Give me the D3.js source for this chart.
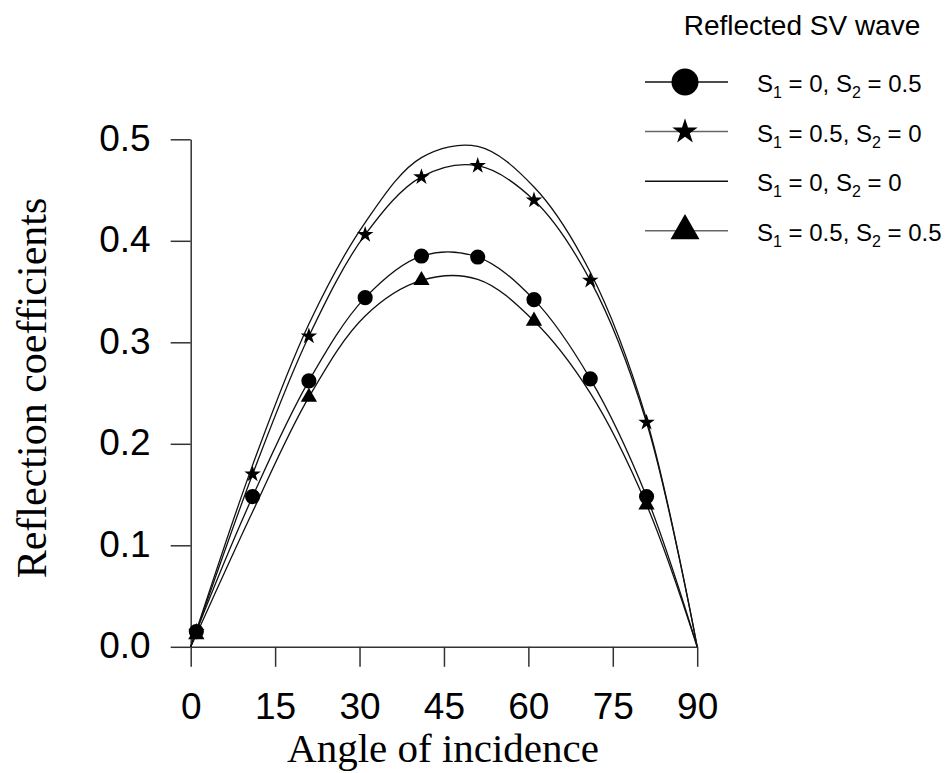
<!DOCTYPE html>
<html>
<head>
<meta charset="utf-8">
<script src="https://cdn.jsdelivr.net/npm/d3@7"></script>
<style>
  body { margin: 0; background: #fff; }
  svg { display: block; }
</style>
</head>
<body>
<script>

// angle of incidence (deg) where the curves were read
const angles = [0, 1, 11, 21, 31, 41, 51, 61, 71, 81, 90];

// reflection coefficients, one list per case
const s1_0_s2_05  = [0, 0.015, 0.148, 0.262, 0.344, 0.385, 0.384, 0.342, 0.264, 0.148, 0];
const s1_05_s2_0  = [0, 0.015, 0.170, 0.306, 0.406, 0.463, 0.474, 0.440, 0.361, 0.221, 0];
const s1_0_s2_0   = [0, 0.016, 0.179, 0.318, 0.418, 0.482, 0.493, 0.453, 0.369, 0.224, 0];
const s1_05_s2_05 = [0, 0.012, 0.133, 0.246, 0.326, 0.361, 0.362, 0.321, 0.250, 0.140, 0];

// angles carrying a marker
const markAngles = [1, 11, 21, 31, 41, 51, 61, 71, 81];
const triangleMarkAngles = [1, 21, 41, 61, 81];

const xTicks = [0, 15, 30, 45, 60, 75, 90];
const yTicks = [0, 0.1, 0.2, 0.3, 0.4, 0.5];

const legendTitle = "Reflected SV wave";
const legendLabels = [
  [["S", "1", " = 0, "], ["S", "2", " = 0.5"]],
  [["S", "1", " = 0.5, "], ["S", "2", " = 0"]],
  [["S", "1", " = 0, "], ["S", "2", " = 0"]],
  [["S", "1", " = 0.5, "], ["S", "2", " = 0.5"]]
];

const width = 952, height = 773;
const sansFont = "Arial, 'Liberation Sans', sans-serif";
const serifFont = "'Times New Roman', 'Liberation Serif', serif";

var x = d3.scaleLinear().domain([0, 90]).range([190.7, 697.2]);
var y = d3.scaleLinear().domain([0, 0.5]).range([646.8, 139.3]);

const svg = d3.select("body").append("svg")
  .attr("width", width)
  .attr("height", height);

// axes
var xAxis = d3.axisBottom(x)
  .tickValues(xTicks)
  .tickSize(20)
  .tickSizeOuter(0)
  .tickPadding(26)
  .tickFormat(d3.format("d"));

var yAxis = d3.axisLeft(y)
  .tickValues(yTicks)
  .tickSize(20)
  .tickSizeOuter(0)
  .tickPadding(20)
  .tickFormat(d3.format(".1f"));

function styleAxis(g) {
  g.attr("font-family", sansFont).attr("font-size", 37);
  g.select(".domain").attr("stroke", "#333").attr("stroke-width", 1.5);
  g.selectAll(".tick line").attr("stroke", "#333").attr("stroke-width", 1.5);
  g.selectAll(".tick text").attr("fill", "#000");
}

svg.append("g")
  .attr("transform", "translate(0," + y(0) + ")")
  .call(xAxis)
  .call(styleAxis);

svg.append("g")
  .attr("transform", "translate(" + x(0) + ",0)")
  .call(yAxis)
  .call(styleAxis)
  .selectAll(".tick text").attr("dy", "0.3em");

// axis titles
svg.append("text")
  .attr("x", 443)
  .attr("y", 762)
  .attr("text-anchor", "middle")
  .attr("font-family", serifFont)
  .attr("font-size", 41)
  .text("Angle of incidence");

svg.append("text")
  .attr("transform", "translate(46,388) rotate(-90)")
  .attr("text-anchor", "middle")
  .attr("font-family", serifFont)
  .attr("font-size", 42)
  .text("Reflection coefficients");

// curves
const series = [
  { vals: s1_0_s2_05,  symbol: d3.symbolCircle,   size: 180, marks: markAngles },
  { vals: s1_05_s2_0,  symbol: d3.symbolStar,     size: 85,  marks: markAngles },
  { vals: s1_0_s2_0,   symbol: null,              size: 0,   marks: [] },
  { vals: s1_05_s2_05, symbol: d3.symbolTriangle, size: 115, marks: triangleMarkAngles }
];

var line = d3.line()
  .x(function(d) { return x(d[0]); })
  .y(function(d) { return y(d[1]); })
  .curve(d3.curveCatmullRom.alpha(0.5));

series.forEach(function(s) {
  var pts = angles.map(function(a, i) { return [a, s.vals[i]]; });
  svg.append("path")
    .datum(pts)
    .attr("fill", "none")
    .attr("stroke", "#111")
    .attr("stroke-width", 1.3)
    .attr("d", line);
});

series.forEach(function(s) {
  if (!s.symbol) return;
  var pts = angles.map(function(a, i) { return [a, s.vals[i]]; })
    .filter(function(d) { return s.marks.indexOf(d[0]) >= 0; });
  svg.selectAll(null)
    .data(pts)
    .enter().append("path")
    .attr("transform", function(d) { return "translate(" + x(d[0]) + "," + y(d[1]) + ")"; })
    .attr("d", d3.symbol().type(s.symbol).size(s.size))
    .attr("fill", "#000");
});

// legend
svg.append("text")
  .attr("x", 802)
  .attr("y", 35)
  .attr("text-anchor", "middle")
  .attr("font-family", sansFont)
  .attr("font-size", 28)
  .text(legendTitle);

const legendSizes = [572, 200, 0, 364];
const legendLineColor = ["#111", "#666", "#111", "#666"];

legendLabels.forEach(function(parts, i) {
  var ly = 82 + i * 49.6;
  var g = svg.append("g").attr("transform", "translate(0," + ly + ")");
  g.append("line")
    .attr("x1", 645).attr("x2", 728)
    .attr("y1", 0).attr("y2", 0)
    .attr("stroke", legendLineColor[i])
    .attr("stroke-width", 1.5);
  if (series[i].symbol) {
    g.append("path")
      .attr("transform", "translate(685,0)")
      .attr("d", d3.symbol().type(series[i].symbol).size(legendSizes[i]))
      .attr("fill", "#000");
  }
  var t = g.append("text")
    .attr("x", 757)
    .attr("y", 10)
    .attr("font-family", sansFont)
    .attr("font-size", 24);
  parts.forEach(function(p) {
    t.append("tspan").text(p[0]);
    t.append("tspan").attr("dy", 6).attr("font-size", 16).text(p[1]);
    t.append("tspan").attr("dy", -6).text(p[2]);
  });
});

</script>
</body>
</html>
